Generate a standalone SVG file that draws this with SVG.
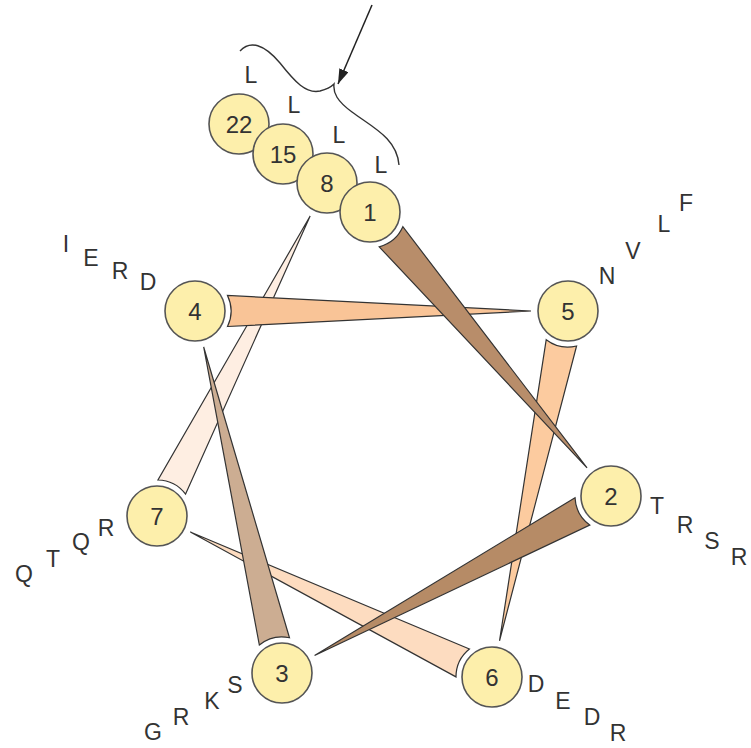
<svg xmlns="http://www.w3.org/2000/svg" width="751" height="748" viewBox="0 0 751 748">
<defs>
<marker id="ah" markerUnits="userSpaceOnUse" markerWidth="16" markerHeight="12" refX="15" refY="5" orient="auto">
<path d="M0,0 L15,5 L0,10 Z" fill="#222"/>
</marker>
</defs>
<style>
.wedge{stroke:#333;stroke-width:1.2;stroke-linejoin:miter}
.res{fill:#FDEFAB;stroke:#555;stroke-width:1.6}
.num{font-family:"Liberation Sans",Arial,sans-serif;font-size:24px;fill:#333;text-anchor:middle}
.aa{font-family:"Liberation Sans",Arial,sans-serif;font-size:23px;fill:#333;text-anchor:middle}
</style>
<rect width="751" height="748" fill="#fff"/>
<g id="connectors">
<path id="w78" class="wedge" fill="#FEEEE2" transform="translate(157,516) rotate(-62.96)" d="M32.5,15.5 L336.9,0 L32.5,-15.5 A36,36 0 0 1 32.5,15.5 Z"/>
<path id="w67" class="wedge" fill="#FDDCC0" transform="translate(492,677) rotate(-154.33)" d="M32.5,15.5 L334.7,0 L32.5,-15.5 A36,36 0 0 1 32.5,15.5 Z"/>
<path id="w56" class="wedge" fill="#FCCB9F" transform="translate(568,311) rotate(101.73)" d="M32.5,15.5 L336.8,0 L32.5,-15.5 A36,36 0 0 1 32.5,15.5 Z"/>
<path id="w45" class="wedge" fill="#F9C497" transform="translate(195,311) rotate(0)" d="M32.5,15.5 L336,0 L32.5,-15.5 A36,36 0 0 1 32.5,15.5 Z"/>
<path id="w34" class="wedge" fill="#CCAD92" transform="translate(282,673) rotate(-103.51)" d="M32.5,15.5 L335.3,0 L32.5,-15.5 A36,36 0 0 1 32.5,15.5 Z"/>
<path id="w23" class="wedge" fill="#B68B66" transform="translate(611,496) rotate(151.72)" d="M32.5,15.5 L336.6,0 L32.5,-15.5 A36,36 0 0 1 32.5,15.5 Z"/>
<path id="w12" class="wedge" fill="#B88D6A" transform="translate(370,212) rotate(49.69)" d="M32.5,15.5 L335.5,0 L32.5,-15.5 A36,36 0 0 1 32.5,15.5 Z"/>
<path id="brace" fill="none" stroke="#333" stroke-width="1.4" d="M240,51 C250,40 264,44 280,63 C295,82 306,94 320,91 C328,89 332,86 334,84 C333,93 337,101 352,112 C372,127 397,138 399,165"/>
<line id="arrow" x1="372" y1="5" x2="338" y2="84" stroke="#222" stroke-width="1.5" marker-end="url(#ah)"/>
</g>
<g id="n22"><circle class="res" cx="239" cy="124" r="30"/><text class="num" x="239" y="133">22</text></g>
<g id="n15"><circle class="res" cx="283" cy="154" r="30"/><text class="num" x="283" y="163">15</text></g>
<g id="n8"><circle class="res" cx="327" cy="183" r="30"/><text class="num" x="327" y="192">8</text></g>
<g id="n1"><circle class="res" cx="370" cy="212" r="30"/><text class="num" x="370" y="221">1</text></g>
<g id="n4"><circle class="res" cx="195" cy="311" r="30"/><text class="num" x="195" y="320">4</text></g>
<g id="n5"><circle class="res" cx="568" cy="311" r="30"/><text class="num" x="568" y="320">5</text></g>
<g id="n2"><circle class="res" cx="611" cy="496" r="30"/><text class="num" x="611" y="505">2</text></g>
<g id="n7"><circle class="res" cx="157" cy="516" r="30"/><text class="num" x="157" y="525">7</text></g>
<g id="n3"><circle class="res" cx="282" cy="673" r="30"/><text class="num" x="282" y="682">3</text></g>
<g id="n6"><circle class="res" cx="492" cy="677" r="30"/><text class="num" x="492" y="686">6</text></g>
<g id="labels">
<text class="aa" x="251" y="83">L</text>
<text class="aa" x="294" y="113">L</text>
<text class="aa" x="339" y="143">L</text>
<text class="aa" x="381" y="173">L</text>
<text class="aa" x="66" y="252">I</text>
<text class="aa" x="91" y="266">E</text>
<text class="aa" x="120" y="279">R</text>
<text class="aa" x="148" y="290">D</text>
<text class="aa" x="607" y="284">N</text>
<text class="aa" x="633" y="259">V</text>
<text class="aa" x="664" y="232">L</text>
<text class="aa" x="686" y="211">F</text>
<text class="aa" x="657" y="514">T</text>
<text class="aa" x="685" y="533">R</text>
<text class="aa" x="712" y="549">S</text>
<text class="aa" x="739" y="565">R</text>
<text class="aa" x="106" y="536">R</text>
<text class="aa" x="81" y="550">Q</text>
<text class="aa" x="53" y="567">T</text>
<text class="aa" x="24" y="582">Q</text>
<text class="aa" x="235" y="693">S</text>
<text class="aa" x="212" y="709">K</text>
<text class="aa" x="181" y="725">R</text>
<text class="aa" x="153" y="740">G</text>
<text class="aa" x="536" y="692">D</text>
<text class="aa" x="563" y="709">E</text>
<text class="aa" x="592" y="725">D</text>
<text class="aa" x="618" y="741">R</text>
</g>
</svg>
